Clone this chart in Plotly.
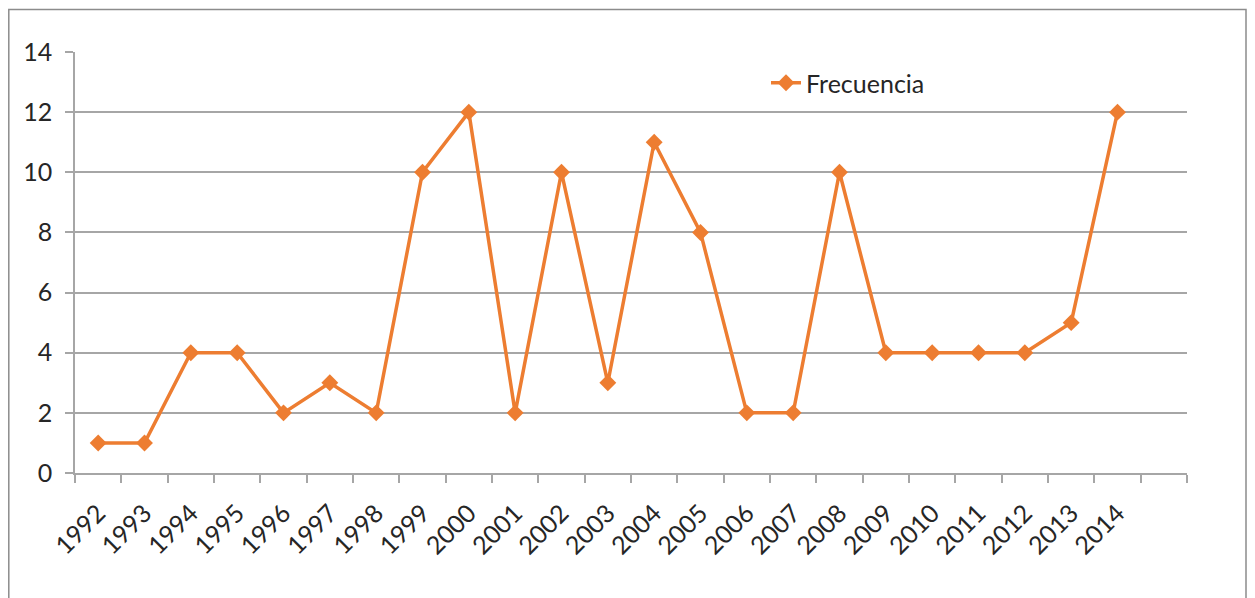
import plotly.graph_objects as go

years = ["1992", "1993", "1994", "1995", "1996", "1997", "1998", "1999", "2000", "2001",
         "2002", "2003", "2004", "2005", "2006", "2007", "2008", "2009", "2010", "2011",
         "2012", "2013", "2014"]
frecuencia = [1, 1, 4, 4, 2, 3, 2, 10, 12, 2, 10, 3, 11, 8, 2, 2, 10, 4, 4, 4, 4, 5, 12]
y_ticks = [0, 2, 4, 6, 8, 10, 12, 14]

ORANGE = "#ED7D31"
GRID = "#A6A6A6"
FONT = "Lato"
TXT = "#262626"

idx = list(range(len(years)))

fig = go.Figure()
fig.add_trace(go.Scatter(
    x=idx, y=frecuencia, name="Frecuencia", mode="lines+markers",
    line=dict(color=ORANGE, width=3.5),
    marker=dict(symbol="diamond", size=13, color=ORANGE),
))

# page is offset by 8px body margin
OFF = 8
W, H = 1255, 598
L = 75 - OFF
T = 52 - OFF
R = W - (1187 - OFF)
B = H - (473 - OFF)
pw, ph = W - L - R, H - T - B

def px_x(page_x):
    return (page_x - OFF - L) / pw

def px_y(page_y):
    return (H - B - (page_y - OFF)) / ph

fig.update_layout(
    width=W, height=H,
    margin=dict(l=L, r=R, t=T, b=B),
    paper_bgcolor="white", plot_bgcolor="white",
    font=dict(family=FONT, size=25, color=TXT),
    showlegend=True,
    legend=dict(x=px_x(766), y=px_y(83), xanchor="left", yanchor="middle",
                bgcolor="rgba(0,0,0,0)", font=dict(size=25, family=FONT, color=TXT)),
    xaxis=dict(
        range=[-0.5, len(years) + 0.5],
        tickmode="array", tickvals=idx, ticktext=years, tickangle=-45,
        ticks="", showgrid=False, zeroline=False,
        showline=True, linecolor=GRID, linewidth=1.5,
        minor=dict(tick0=-0.5, dtick=1, ticks="outside", ticklen=8, tickcolor=GRID, tickwidth=1.5,
                   showgrid=False),
        tickfont=dict(size=25, family=FONT, color=TXT),
        ticklabelstandoff=14,
        fixedrange=True,
    ),
    yaxis=dict(
        range=[0, 14], tickmode="array", tickvals=y_ticks,
        ticks="outside", ticklen=8, tickcolor=GRID, tickwidth=1.5,
        showgrid=True, gridcolor=GRID, gridwidth=1.5,
        zeroline=False, showline=True, linecolor=GRID, linewidth=1.5,
        tickfont=dict(size=25, family=FONT, color=TXT),
        ticklabelstandoff=8,
        fixedrange=True,
    ),
)

# outer chart border
fig.add_shape(type="rect", xref="paper", yref="paper",
              x0=px_x(8.8), x1=px_x(1246),
              y0=-0.5, y1=px_y(9.5),
              line=dict(color="#8C8C8C", width=1.5), layer="below")

fig.write_html("out.html")
